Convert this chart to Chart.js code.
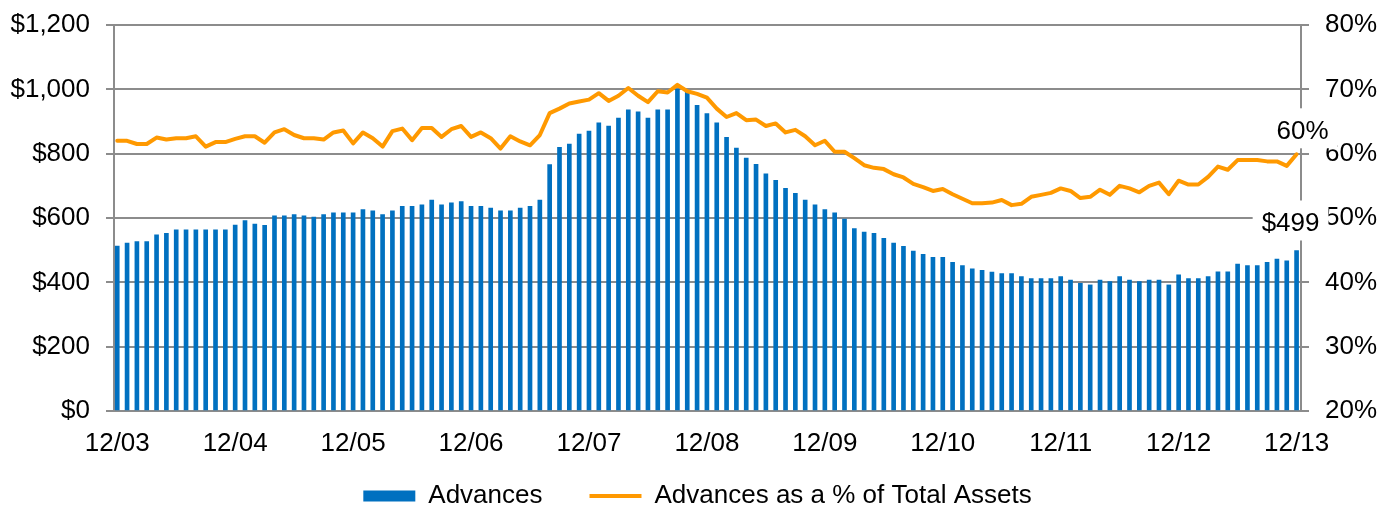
<!DOCTYPE html>
<html>
<head>
<meta charset="utf-8">
<script src="https://cdn.jsdelivr.net/npm/chart.js@4/dist/chart.umd.min.js"></script>
<style>
  html, body { margin: 0; padding: 0; background: #fff; }
  #wrap { width: 1395px; height: 510px; }
</style>
</head>
<body>
<div id="wrap"><canvas id="advChart"></canvas></div>
<script>
// monthly, 12/03 .. 12/13 (121 months), one row per year starting in December
const tickLabels = ['12/03', '12/04', '12/05', '12/06', '12/07', '12/08', '12/09', '12/10', '12/11', '12/12', '12/13'];

const advances = [
  513, 522, 527, 527, 548, 552, 563, 563, 563, 563, 563, 563,
  578, 592, 581, 577, 607, 607, 611, 607, 603, 611, 616, 616,
  616, 626, 622, 611, 622, 636, 636, 641, 656, 641, 647, 651,
  636, 636, 631, 622, 622, 631, 636, 656, 766, 820, 830, 861,
  870, 896, 886, 911, 936, 930, 911, 936, 936, 1001, 991, 950,
  925, 896, 851, 817, 786, 767, 737, 717, 692, 677, 656, 641,
  626, 616, 597, 567, 556, 552, 537, 522, 512, 497, 487, 478,
  478, 462, 452, 442, 437, 432, 427, 427, 418, 412, 412, 412,
  418, 407, 397, 392, 407, 402, 418, 407, 402, 407, 407, 392,
  423, 412, 412, 418, 433, 433, 457, 452, 452, 462, 472, 467,
  499
];

const advancesPct = [
  62.0, 62.0, 61.5, 61.5, 62.5, 62.2, 62.4, 62.4, 62.7, 61.1, 61.8, 61.8,
  62.3, 62.7, 62.7, 61.7, 63.3, 63.8, 62.9, 62.4, 62.4, 62.2, 63.3, 63.6,
  61.6, 63.3, 62.4, 61.1, 63.5, 63.9, 62.1, 64.0, 64.0, 62.6, 63.8, 64.3,
  62.6, 63.3, 62.4, 60.8, 62.7, 61.9, 61.3, 62.9, 66.3, 67.0, 67.8, 68.1,
  68.4, 69.4, 68.2, 69.0, 70.2, 69.0, 68.0, 69.7, 69.5, 70.7, 69.7, 69.3,
  68.7, 67.0, 65.7, 66.3, 65.2, 65.3, 64.3, 64.7, 63.3, 63.7, 62.7, 61.3,
  62.0, 60.3, 60.3, 59.3, 58.2, 57.8, 57.6, 56.8, 56.3, 55.3, 54.8, 54.2,
  54.5, 53.7, 53.0, 52.3, 52.3, 52.4, 52.8, 52.0, 52.2, 53.3, 53.6, 53.9,
  54.6, 54.2, 53.1, 53.3, 54.4, 53.6, 55.0, 54.6, 54.0, 55.0, 55.5, 53.7,
  55.8, 55.2, 55.2, 56.4, 58.0, 57.5, 59.0, 59.0, 59.0, 58.8, 58.8, 58.1,
  59.9
];

const gridGray = '#8c8c8c';

Chart.defaults.font.family = "'Liberation Sans', Arial, sans-serif";
Chart.defaults.font.size = 26;
Chart.defaults.color = '#000';

// white-boxed value labels on the last bar / last point
const endLabels = {
  id: 'endLabels',
  afterDatasetsDraw(chart) {
    const ctx = chart.ctx;
    const last = advances.length - 1;
    const bar = chart.getDatasetMeta(0).data[last];
    const pt = chart.getDatasetMeta(1).data[last];

    function boxed(text, cx, cy, boxShift) {
      ctx.save();
      ctx.font = "26px 'Liberation Sans', Arial, sans-serif";
      const w = ctx.measureText(text).width + 18;
      ctx.fillStyle = '#fff';
      ctx.fillRect(cx - w / 2, cy + boxShift - 20, w, 40);
      ctx.fillStyle = '#000';
      ctx.textAlign = 'center';
      ctx.textBaseline = 'middle';
      ctx.fillText(text, cx, cy);
      ctx.restore();
    }
    boxed('$' + advances[last], bar.x - 6, bar.y - 27, -3);
    boxed(Math.round(advancesPct[last]) + '%', pt.x + 6, pt.y - 22, -4);
  }
};

// the legend keeps its wide item spacing but sits closer to the axis labels
const legendNudge = {
  id: 'legendNudge',
  afterLayout(chart) {
    chart.legend.top -= 25;
    chart.legend.bottom -= 25;
  }
};

new Chart(document.getElementById('advChart'), {
  type: 'bar',
  data: {
    datasets: [{
      label: 'Advances',
      data: advances.map((v, i) => ({ x: i, y: v })),
      backgroundColor: '#0070c0',
      borderWidth: 0,
      barThickness: 4,
      pointStyle: 'rect',
      yAxisID: 'y',
      order: 2
    }, {
      type: 'line',
      label: 'Advances as a % of Total Assets',
      data: advancesPct.map((v, i) => ({ x: i, y: v })),
      borderColor: '#ff9900',
      backgroundColor: '#ff9900',
      borderWidth: 4,
      borderJoinStyle: 'round',
      borderCapStyle: 'round',
      pointRadius: 0,
      pointStyle: 'line',
      tension: 0,
      yAxisID: 'y1',
      order: 1
    }]
  },
  options: {
    responsive: true,
    maintainAspectRatio: false,
    animation: false,
    layout: { padding: { top: 25, bottom: -34, left: 0, right: 0 } },
    scales: {
      x: {
        type: 'linear',
        min: -0.33,
        max: 120.45,
        offset: false,
        grid: { display: false, offset: false },
        border: { display: false },
        ticks: {
          stepSize: 12,
          includeBounds: false,
          autoSkip: false,
          maxRotation: 0,
          padding: 9,
          callback: v => tickLabels[v / 12]
        },
        afterFit: s => { s.height = 50; }
      },
      y: {
        position: 'left',
        min: 0,
        max: 1200,
        ticks: {
          stepSize: 200,
          padding: 16,
          callback: v => '$' + v.toLocaleString('en-US')
        },
        grid: { color: gridGray, lineWidth: 2, tickLength: 8 },
        border: { color: gridGray, width: 2 },
        afterFit: s => { s.width = 114; s.paddingTop = 0; s.paddingBottom = 0; }
      },
      y1: {
        position: 'right',
        min: 20,
        max: 80,
        ticks: {
          stepSize: 10,
          padding: 16,
          callback: v => v + '%'
        },
        grid: { drawOnChartArea: false, color: gridGray, lineWidth: 2, tickLength: 8 },
        border: { color: gridGray, width: 2 },
        afterFit: s => { s.width = 94; s.paddingTop = 0; s.paddingBottom = 0; }
      }
    },
    plugins: {
      legend: {
        position: 'bottom',
        labels: {
          usePointStyle: true,
          pointStyleWidth: 52,
          boxHeight: 11,
          padding: 47,
          sort: (a, b) => a.datasetIndex - b.datasetIndex
        }
      },
      tooltip: { enabled: false }
    }
  },
  plugins: [endLabels, legendNudge]
});
</script>
</body>
</html>
